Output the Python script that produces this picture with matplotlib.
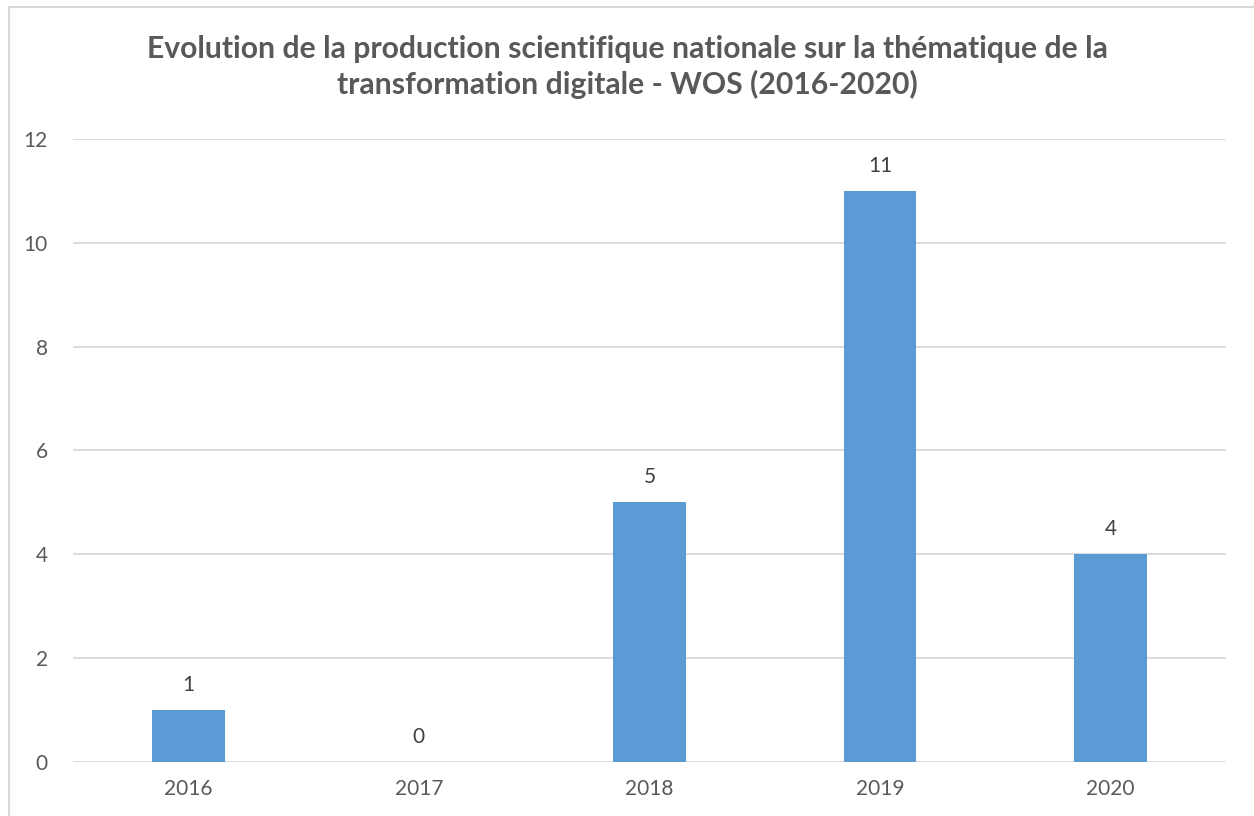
import matplotlib
matplotlib.use("Agg")
import matplotlib.pyplot as plt
from matplotlib.patches import Rectangle

# Data
years = ["2016", "2017", "2018", "2019", "2020"]
counts = [1, 0, 5, 11, 4]
yticks = [0, 2, 4, 6, 8, 10, 12]
title = ("Evolution de la production scientifique nationale sur la thématique de la\n"
         "transformation digitale - WOS (2016-2020)")

plt.rcParams["font.family"] = ["Lato", "DejaVu Sans"]

fig = plt.figure(figsize=(12.54, 8.16), dpi=100)
ax = fig.add_axes([0.0582, 0.0662, 0.9195, 0.7635])

x = range(len(years))
bars = ax.bar(x, counts, width=0.315, color="#5B9BD5", zorder=3)

for xi, v in zip(x, counts):
    ax.annotate(str(v), (xi, v), xytext=(0, 11), textcoords="offset points",
                ha="center", va="bottom", fontsize=15, color="#404040")

ax.set_xlim(-0.5, len(years) - 0.5)
ax.set_ylim(0, 12)
ax.set_yticks(yticks)
ax.set_xticks(list(x))
ax.set_xticklabels(years)
ax.yaxis.grid(True, color="#D9D9D9", linewidth=1.3, zorder=0)
ax.tick_params(axis="both", length=0, labelsize=15, labelcolor="#595959")
ax.tick_params(axis="y", pad=18)
ax.tick_params(axis="x", pad=12)
for s in ax.spines.values():
    s.set_visible(False)

fig.text(0.5, 0.918, title, ha="center", va="center", fontsize=21.7,
         fontweight="bold", color="#595959", linespacing=1.3)

# chart frame
fig.patches.append(Rectangle((9 / 1254, -0.1), 1.2, 1 - 7 / 816 + 0.1,
                             transform=fig.transFigure, fill=False,
                             edgecolor="#D9D9D9", linewidth=1.5))

fig.savefig("out.png", dpi=100)
